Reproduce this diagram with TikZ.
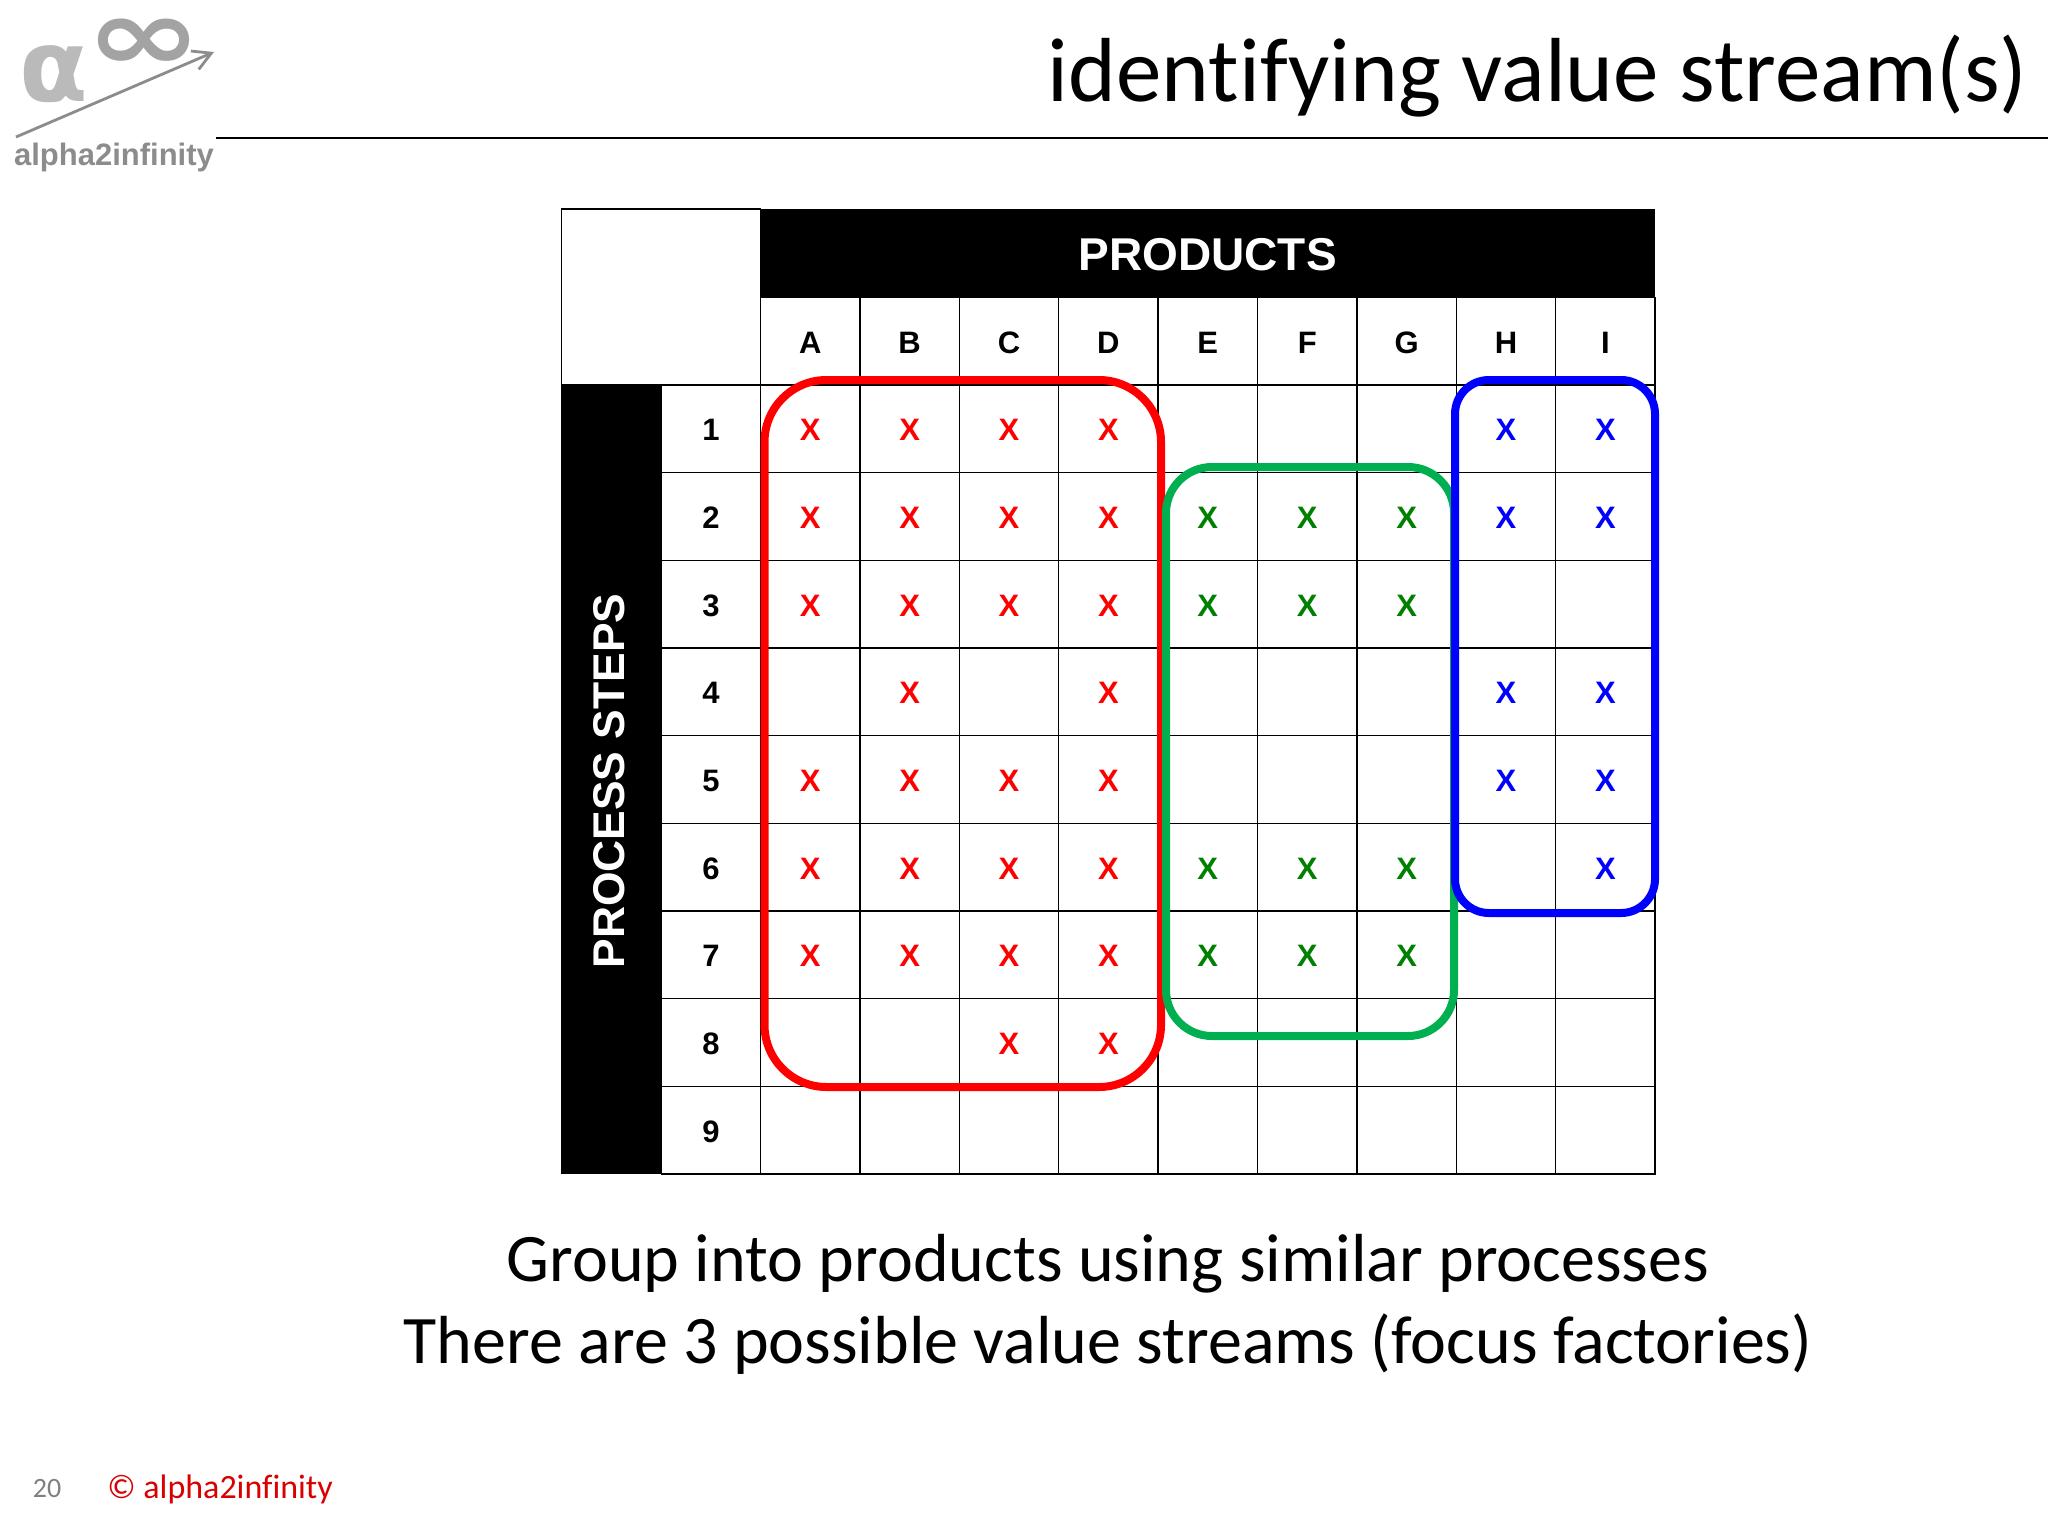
\documentclass[tikz,border=0pt]{standalone}
\usepackage{fontspec}
\setmainfont[Ligatures=NoCommon]{Carlito}
\newfontfamily\arialfont{Liberation Sans}
\newfontfamily\dejafont{DejaVu Sans}
\usetikzlibrary{arrows.meta,positioning,calc}
\definecolor{streamgreen}{HTML}{00B050}
\definecolor{markgreen}{HTML}{008000}
\definecolor{logogray}{HTML}{8C8C8C}
\newcommand{\cw}{99.4}
\newcommand{\rh}{87.67}
\newcommand{\low}[1]{\raisebox{-0.6pt}[\height][0pt]{#1}}
\begin{document}
\begin{tikzpicture}[x=0.5pt,y=-0.5pt,
    cell/.style={rectangle, draw=black, line width=0.7pt, minimum width=49.7pt, minimum height=43.83pt, inner sep=0pt, font=\arialfont\bfseries\fontsize{15.5}{18}\selectfont},
    band/.style={rectangle, fill=black, text=white, inner sep=0pt, font=\arialfont\bfseries\fontsize{23}{26}\selectfont},
    stream/.style={line width=4pt, rounded corners=#1},
    xmark/.style={inner sep=0pt, yshift=-0.6pt, font=\arialfont\bfseries\fontsize{15.5}{18}\selectfont}]
    \useasboundingbox (0,0) rectangle (2048,1536);
    % logo
    \node [inner sep=0pt, xscale=1.17, yscale=0.85, text=logogray!80, font=\dejafont\bfseries\fontsize{60}{60}\selectfont] (logoinf) at (144,45) {∞};
    \node [inner sep=0pt, text=logogray!60, font=\dejafont\bfseries\fontsize{50}{50}\selectfont] (logoalpha) at (54,74) {α};
    \coordinate (logostart) at (16,137);
    \coordinate (logoend) at (214,52);
    \draw [-{Straight Barb[length=9pt,width=10pt]}, logogray, line width=1.4pt] (logostart) -- (logoend);
    \node [inner sep=0pt, text=logogray, font=\arialfont\bfseries\fontsize{15.5}{18}\selectfont] (logotext) at (114,157) {alpha2infinity};
    % title
    \coordinate (rulestart) at (216,138);
    \coordinate (ruleend) at (2048,138);
    \draw [black, line width=1.1pt] (rulestart) -- (ruleend);
    \node [anchor=base east, inner sep=0pt, font=\fontsize{45.5}{50}\selectfont] (title) at (2028,102) {identifying value stream(s)};
    % table
    \node [cell, minimum width=99.4pt, minimum height=88pt] (corner) at (661,297) {};
    \node [band, minimum width=447.3pt, minimum height=44.3pt] (products) at (1207.7,253.5) {\low{PRODUCTS}};
    \node [band, minimum width=49.7pt, minimum height=394.5pt] (steps) at (611,779.5) {};
    \node [band, rotate=90, inner sep=0pt, font=\arialfont\bfseries\fontsize{22.2}{26}\selectfont] (stepstext) at (609,781) {PROCESS STEPS};
    \foreach \lbl [count=\c] in {A,B,C,D,E,F,G,H,I}
        \node [cell] (col\c) at ({760.5+(\c-0.5)*\cw},341.2) {\low{\lbl}};
    \foreach \r in {1,...,9} {
        \node [cell] (row\r) at (711,{385+(\r-0.5)*\rh}) {\low{\r}};
        \foreach \c in {1,...,9}
            \node [cell] (c\c-\r) at ({760.5+(\c-0.5)*\cw},{385+(\r-0.5)*\rh}) {};
    }
    % marks
    \foreach \r/\cols in {1/{1,2,3,4},2/{1,2,3,4},3/{1,2,3,4},4/{2,4},5/{1,2,3,4},6/{1,2,3,4},7/{1,2,3,4},8/{3,4}}
        \foreach \c in \cols
            \node [xmark, text=red] at (c\c-\r) {X};
    \foreach \r in {2,3,6,7}
        \foreach \c in {5,6,7}
            \node [xmark, text=markgreen] at (c\c-\r) {X};
    \foreach \r/\cols in {1/{8,9},2/{8,9},4/{8,9},5/{8,9},6/{9}}
        \foreach \c in \cols
            \node [xmark, text=blue] at (c\c-\r) {X};
    % value streams
    \draw [stream=31pt, red] (764.5,380) rectangle (1161,1087);
    \draw [stream=23pt, streamgreen] (1166,467) rectangle (1454,1036);
    \draw [stream=17pt, blue] (1455,380) rectangle (1655,913);
    % caption
    \node [inner sep=0pt, font=\fontsize{34}{38}\selectfont] (line1) at (1108,1264) {Group into products using similar processes};
    \node [inner sep=0pt, font=\fontsize{34}{38}\selectfont] (line2) at (1108,1344) {There are 3 possible value streams (focus factories)};
    % footer
    \node [inner sep=0pt, text=gray, font=\fontsize{14}{16}\selectfont] (pagenum) at (47,1488) {20};
    \node [anchor=west, inner sep=0pt, text=red!85!black, font=\fontsize{17}{20}\selectfont] (copyright) at (107,1489) {© alpha2infinity};
\end{tikzpicture}
\end{document}
